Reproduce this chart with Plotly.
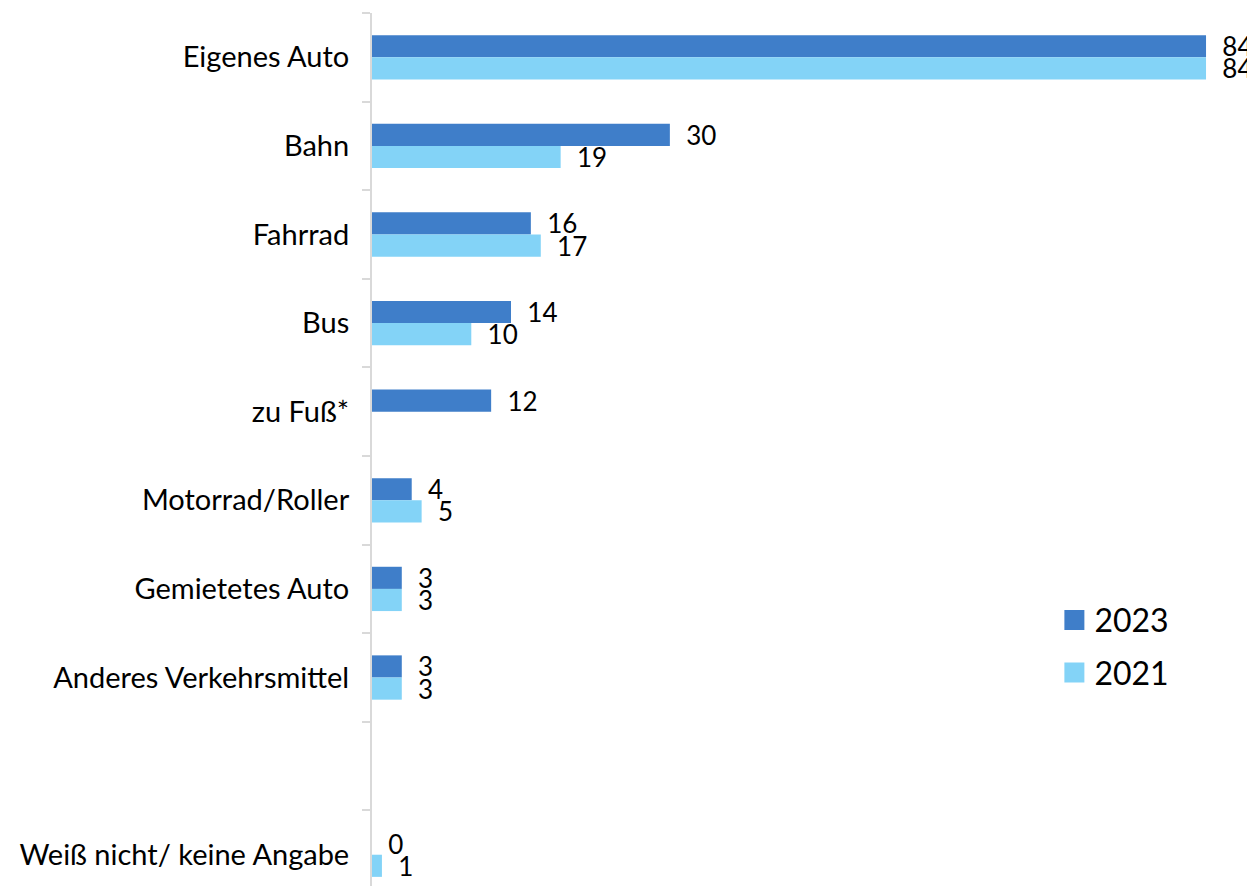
import plotly.graph_objects as go

categories = ["Eigenes Auto", "Bahn", "Fahrrad", "Bus", "zu Fuß*",
              "Motorrad/Roller", "Gemietetes Auto", "Anderes Verkehrsmittel",
              " ", "Weiß nicht/ keine Angabe"]
values_2023 = [84, 30, 16, 14, 12, 4, 3, 3, None, 0]
values_2021 = [84, 19, 17, 10, None, 5, 3, 3, None, 1]
series_names = ["2023", "2021"]
colors = ["#3F7EC9", "#83D3F7"]

FONT = "Lato"

fig = go.Figure()
for name, vals, col in zip(series_names, [values_2023, values_2021], colors):
    fig.add_trace(go.Bar(
        y=categories, x=vals, orientation="h", name=name,
        marker=dict(color=col, line=dict(width=0)),
        text=["" if v is None else f"  {v}" for v in vals],
        textposition="outside", cliponaxis=False, constraintext="none",
        textfont=dict(family=FONT, size=26, color="black"),
        showlegend=False,
    ))
for name, col in zip(series_names, colors):
    fig.add_trace(go.Scatter(
        x=[None], y=[None], mode="markers", name=name, legendgroup=name,
        marker=dict(symbol="square", size=16, color=col,
                    line=dict(color=col, width=4)),
    ))

# page body has an 8px default margin: figure sized so the page does not scroll
fig.update_layout(
    width=1247, height=878,
    margin=dict(l=364, r=45, t=5, b=0, autoexpand=False),
    paper_bgcolor="white", plot_bgcolor="white",
    barmode="group", bargap=0.5, bargroupgap=0,
    font=dict(family=FONT, size=29, color="black"),
    xaxis=dict(range=[0, 84.4], visible=False, showgrid=False, zeroline=False),
    yaxis=dict(type="category", categoryorder="array", categoryarray=categories,
               range=[9.353, -0.5], showgrid=False, zeroline=False,
               showline=True, linecolor="#D9D9D9", linewidth=2,
               ticks="outside", ticklen=8, tickcolor="#D9D9D9", tickwidth=2,
               tickson="boundaries", ticklabelstandoff=15, automargin=False,
               tickfont=dict(family=FONT, size=29, color="black")),
    legend=dict(x=0.8143, y=0.2742, xanchor="left", yanchor="middle",
                font=dict(family=FONT, size=32, color="black"),
                tracegroupgap=8, traceorder="grouped",
                bgcolor="rgba(0,0,0,0)"),
)

fig.write_html("out.html")
